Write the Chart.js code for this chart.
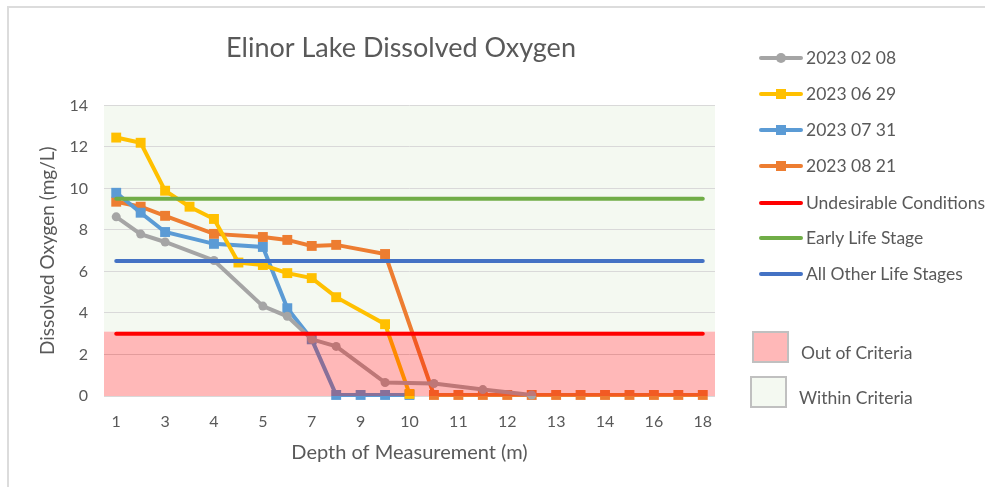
<!DOCTYPE html>
<html>
<head>
<meta charset="utf-8">
<script src="https://cdn.jsdelivr.net/npm/chart.js@4.4.1/dist/chart.umd.min.js"></script>
<style>
    body { margin: 0; background: #fff; font-family: Lato, sans-serif; overflow: hidden; }
    #frame { position: absolute; left: 7px; top: 6px; width: 1100px; height: 600px; border: 2px solid #dcdcdc; }
    #wrap { position: absolute; left: 0; top: 0; width: 802px; height: 487px; }
    .legend-item { position: absolute; left: 759px; height: 20px; color: #595959; font-size: 17.5px; white-space: nowrap; }
    .legend-item .sym { position: absolute; left: 0; top: 8px; width: 44px; height: 4px; border-radius: 2px; }
    .legend-item .mark { position: absolute; left: 17px; top: 5px; width: 10px; height: 10px; }
    .legend-item .txt { position: absolute; left: 47px; top: 0; line-height: 20px; }
    .crit-box { position: absolute; width: 33px; height: 28px; border: 2px solid #c0c0c0; }
    .crit-txt { position: absolute; color: #595959; font-size: 17.5px; line-height: 20px; white-space: nowrap; }
</style>
</head>
<body>
<div id="frame"></div>
<div id="wrap"><canvas id="doChart"></canvas></div>
<div id="legend"></div>
<script>
// עומקי מדידה (חלק מהתוויות מוסתרות כמו באקסל)
const depths = ['1', '2', '3', '3.5', '4', '4.5', '5', '6', '7', '8', '9', '9.5', '10',
    '10.5', '11', '11.5', '12', '12.5', '13', '13.5', '14', '15', '16', '17', '18'];

const feb08 = [8.63, 7.8, 7.42, null, 6.53, null, 4.33, 3.84, 2.73, 2.39, null, 0.65, null,
    0.6, null, 0.31, null, 0.05];
const jun29 = [12.45, 12.2, 9.89, 9.12, 8.53, 6.43, 6.31, 5.92, 5.68, 4.76, null, 3.46, 0.1];
const jul31 = [9.79, 8.83, 7.9, null, 7.33, null, 7.18, 4.23, 2.73, 0.05, 0.05, 0.05, 0.05];
const aug21 = [9.36, 9.12, 8.68, null, 7.81, null, 7.66, 7.52, 7.23, 7.28, null, 6.84, null,
    0.05, 0.05, 0.05, 0.05, 0.05, 0.05, 0.05, 0.05, 0.05, 0.05, 0.05, 0.05];

// קווי סף
const undesirable = 3;
const earlyLife = 9.5;
const otherLife = 6.5;

// אזורי קריטריון
const outOfCriteriaTop = 3.1;
const withinCriteriaTop = 14;

const yTicks = [0, 2, 4, 6, 8, 10, 12, 14];

const textColor = '#595959';
const pinkZone = 'rgba(255, 0, 0, 0.28)';
const greenZone = '#f4f9f1';

function thresholdLine(label, value, color) {
    return {
        label: label,
        data: [{ x: depths[0], y: value }, { x: depths[depths.length - 1], y: value }],
        borderColor: color,
        borderWidth: 4,
        borderCapStyle: 'round',
        pointRadius: 0,
        order: 1
    };
}

function series(label, data, color, style, radius) {
    return {
        label: label,
        data: data,
        borderColor: color,
        backgroundColor: color,
        borderWidth: 4,
        pointStyle: style,
        pointRadius: radius,
        pointHoverRadius: radius,
        pointBorderWidth: 0,
        spanGaps: true,
        clip: false,
        order: 2
    };
}

// רקע ירוק מתחת לכל, שכבה ורודה שקופה מעל הקווים
const criteriaZones = {
    id: 'criteriaZones',
    beforeDraw(chart) {
        const { ctx, chartArea, scales } = chart;
        const top = scales.y.getPixelForValue(withinCriteriaTop);
        const bottom = scales.y.getPixelForValue(outOfCriteriaTop);
        ctx.save();
        ctx.fillStyle = greenZone;
        ctx.fillRect(chartArea.left, top, chartArea.right - chartArea.left, bottom - top);
        ctx.restore();
    },
    afterDatasetsDraw(chart) {
        const { ctx, chartArea, scales } = chart;
        const top = scales.y.getPixelForValue(outOfCriteriaTop);
        ctx.save();
        ctx.fillStyle = pinkZone;
        ctx.fillRect(chartArea.left, top, chartArea.right - chartArea.left, chartArea.bottom - top);
        ctx.restore();
    }
};

const datasets = [
    series('2023 02 08', feb08, '#a5a5a5', 'circle', 4.5),
    series('2023 06 29', jun29, '#ffc000', 'rect', 7),
    series('2023 07 31', jul31, '#5b9bd5', 'rect', 7),
    series('2023 08 21', aug21, '#ed7d31', 'rect', 7),
    thresholdLine('Undesirable Conditions', undesirable, '#ff0000'),
    thresholdLine('Early Life Stage', earlyLife, '#70ad47'),
    thresholdLine('All Other Life Stages', otherLife, '#4472c4')
];

const ctx = document.getElementById('doChart').getContext('2d');
const doChart = new Chart(ctx, {
    type: 'line',
    data: { labels: depths, datasets: datasets },
    plugins: [criteriaZones],
    options: {
        responsive: true,
        maintainAspectRatio: false,
        animation: false,
        layout: { padding: { left: 0, right: 0, top: 0, bottom: 22 } },
        plugins: {
            legend: { display: false },
            tooltip: { enabled: false },
            title: {
                display: true,
                text: 'Elinor Lake Dissolved Oxygen',
                color: textColor,
                font: { family: 'Lato', size: 27, weight: 'normal' },
                padding: { top: 32, bottom: 41 }
            }
        },
        scales: {
            x: {
                offset: true,
                grid: { display: false, drawTicks: false },
                border: { display: false },
                ticks: {
                    autoSkip: false,
                    maxRotation: 0,
                    padding: 16,
                    color: textColor,
                    font: { family: 'Lato', size: 16 },
                    callback: function (value, index) {
                        return index % 2 === 0 ? this.getLabelForValue(value) : '';
                    }
                },
                title: {
                    display: true,
                    text: 'Depth of Measurement (m)',
                    color: textColor,
                    font: { family: 'Lato', size: 20 },
                    padding: { top: 0, bottom: 0 }
                },
                afterFit: scale => { scale.height = 69; }
            },
            y: {
                min: 0,
                max: 14,
                afterBuildTicks: scale => { scale.ticks = yTicks.map(v => ({ value: v })); },
                grid: { color: '#d9d9d9', lineWidth: 1, drawTicks: false },
                border: { display: false },
                ticks: {
                    padding: 16,
                    color: textColor,
                    font: { family: 'Lato', size: 16 }
                },
                title: {
                    display: true,
                    text: 'Dissolved Oxygen (mg/L)',
                    color: textColor,
                    font: { family: 'Lato', size: 19 },
                    padding: { top: 36, bottom: 0 }
                },
                afterFit: scale => { scale.width = 104; }
            },
            // ציר ריק בצד ימין רק כדי לשמור מקום למקרא
            spacer: {
                type: 'linear',
                position: 'right',
                display: true,
                grid: { display: false },
                border: { display: false },
                ticks: { display: false },
                afterFit: scale => { scale.width = 87; }
            }
        }
    }
});

// מקרא
const legendEl = document.getElementById('legend');
const legendTops = [48, 84, 120, 156, 193, 228, 264];
datasets.forEach((ds, i) => {
    const hasMark = ds.pointRadius > 0;
    const round = ds.pointStyle === 'circle' ? 'border-radius:50%;' : '';
    legendEl.innerHTML += `
        <div class="legend-item" style="top:${legendTops[i]}px">
            <div class="sym" style="background:${ds.borderColor}"></div>
            ${hasMark ? `<div class="mark" style="background:${ds.borderColor};${round}"></div>` : ''}
            <div class="txt">${ds.label}</div>
        </div>`;
});
legendEl.innerHTML += `
    <div class="crit-box" style="left:752px; top:331px; background:${pinkZone}"></div>
    <div class="crit-txt" style="left:801px; top:343px">Out of Criteria</div>
    <div class="crit-box" style="left:750px; top:376px; background:${greenZone}"></div>
    <div class="crit-txt" style="left:799px; top:388px">Within Criteria</div>`;
</script>
</body>
</html>
